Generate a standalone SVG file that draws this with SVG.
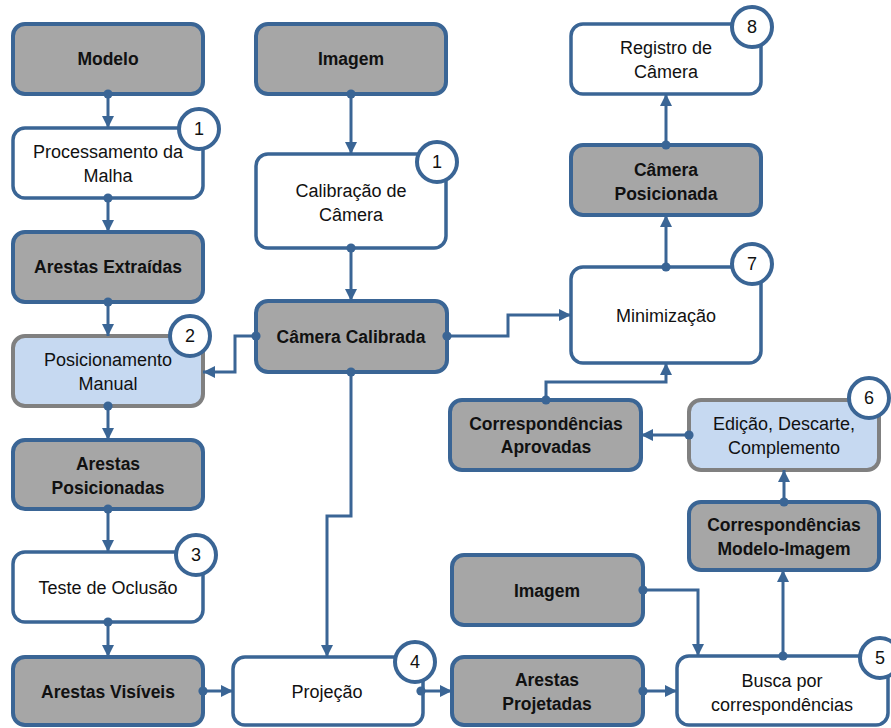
<svg xmlns="http://www.w3.org/2000/svg" width="891" height="728" viewBox="0 0 891 728">
<style>
.box{stroke:#3A6595;stroke-width:4;}
.g{fill:#A6A6A6;}
.w{fill:#FFFFFF;stroke-width:3.5;}
.lb{fill:#C6D9F1;stroke:#808080;}
.t{font-family:"Liberation Sans",Arial,sans-serif;font-size:18px;fill:#111;text-anchor:middle;}
.b{font-weight:bold;font-size:17.5px;}
.badge{fill:#fff;stroke:#3A6595;stroke-width:4;}
.bt{font-family:"Liberation Sans",Arial,sans-serif;font-size:18px;fill:#111;text-anchor:middle;}
.c{fill:none;stroke:#3A6595;stroke-width:3;marker-start:url(#dot);marker-end:url(#arr);}
</style>
<defs>
<marker id="arr" markerUnits="userSpaceOnUse" markerWidth="12" markerHeight="12" viewBox="0 0 10 10" refX="10" refY="5" orient="auto"><path d="M0,0 L10,5 L0,10 z" fill="#3A6595"/></marker>
<marker id="dot" markerUnits="userSpaceOnUse" markerWidth="10" markerHeight="10" viewBox="0 0 10 10" refX="5" refY="5" orient="auto"><circle cx="5" cy="5" r="4.6" fill="#3A6595"/></marker>
</defs>
<rect width="891" height="728" fill="#fff"/>

<g id="modelo"><rect class="box g" x="13" y="24" width="190" height="70" rx="12"/><text class="t b" x="108" y="65">Modelo</text></g>
<g id="processamento"><rect class="box w" x="13" y="128" width="190" height="70" rx="12"/><text class="t" x="108" y="158">Processamento da</text><text class="t" x="108" y="182">Malha</text><circle class="badge" cx="199" cy="129" r="20"/><text class="bt" x="199" y="135">1</text></g>
<g id="arestas-extraidas"><rect class="box g" x="13" y="232" width="190" height="70" rx="12"/><text class="t b" x="108" y="273">Arestas Extraídas</text></g>
<g id="posicionamento"><rect class="box lb" x="13" y="336" width="190" height="70" rx="12"/><text class="t" x="108" y="366">Posicionamento</text><text class="t" x="108" y="390">Manual</text><circle class="badge" cx="190" cy="336" r="20"/><text class="bt" x="190" y="342">2</text></g>
<g id="arestas-posicionadas"><rect class="box g" x="13" y="440" width="190" height="69" rx="12"/><text class="t b" x="108" y="470">Arestas</text><text class="t b" x="108" y="494">Posicionadas</text></g>
<g id="teste"><rect class="box w" x="13" y="552" width="190" height="70" rx="12"/><text class="t" x="108" y="594">Teste de Oclusão</text><circle class="badge" cx="196" cy="555" r="20"/><text class="bt" x="196" y="561">3</text></g>
<g id="arestas-visiveis"><rect class="box g" x="13" y="657" width="190" height="68" rx="12"/><text class="t b" x="108" y="698">Arestas Visíveis</text></g>

<g id="imagem1"><rect class="box g" x="256" y="24" width="190" height="70" rx="12"/><text class="t b" x="351" y="65">Imagem</text></g>
<g id="calibracao"><rect class="box w" x="256" y="154" width="190" height="94" rx="12"/><text class="t" x="351" y="197">Calibração de</text><text class="t" x="351" y="221">Câmera</text><circle class="badge" cx="437" cy="162" r="20"/><text class="bt" x="437" y="168">1</text></g>
<g id="camera-calibrada"><rect class="box g" x="256" y="301" width="191" height="71" rx="12"/><text class="t b" x="351" y="343">Câmera Calibrada</text></g>
<g id="projecao"><rect class="box w" x="233" y="657" width="190" height="68" rx="12"/><text class="t" x="327" y="698">Projeção</text><circle class="badge" cx="415" cy="662" r="20"/><text class="bt" x="415" y="668">4</text></g>

<g id="registro"><rect class="box w" x="571" y="24" width="190" height="70" rx="12"/><text class="t" x="666" y="54">Registro de</text><text class="t" x="666" y="78">Câmera</text><circle class="badge" cx="752" cy="27" r="20"/><text class="bt" x="752" y="33">8</text></g>
<g id="camera-posicionada"><rect class="box g" x="571" y="145" width="190" height="70" rx="12"/><text class="t b" x="666" y="176">Câmera</text><text class="t b" x="666" y="200">Posicionada</text></g>
<g id="minimizacao"><rect class="box w" x="571" y="267" width="190" height="96" rx="12"/><text class="t" x="666" y="322">Minimização</text><circle class="badge" cx="752" cy="264" r="20"/><text class="bt" x="752" y="270">7</text></g>
<g id="corr-aprovadas"><rect class="box g" x="450" y="400" width="191" height="70" rx="12"/><text class="t b" x="546" y="430">Correspondências</text><text class="t b" x="546" y="453">Aprovadas</text></g>
<g id="edicao"><rect class="box lb" x="689" y="400" width="190" height="70" rx="12"/><text class="t" x="784" y="430">Edição, Descarte,</text><text class="t" x="784" y="454">Complemento</text><circle class="badge" cx="869" cy="398" r="20"/><text class="bt" x="869" y="404">6</text></g>
<g id="corr-mi"><rect class="box g" x="689" y="502" width="190" height="68" rx="12"/><text class="t b" x="784" y="531">Correspondências</text><text class="t b" x="784" y="555">Modelo-Imagem</text></g>
<g id="imagem2"><rect class="box g" x="452" y="555" width="191" height="70" rx="12"/><text class="t b" x="547" y="597">Imagem</text></g>
<g id="arestas-projetadas"><rect class="box g" x="452" y="657" width="191" height="68" rx="12"/><text class="t b" x="547" y="686">Arestas</text><text class="t b" x="547" y="710">Projetadas</text></g>
<g id="busca"><rect class="box w" x="677" y="656" width="211" height="69" rx="12"/><text class="t" x="782" y="687">Busca por</text><text class="t" x="782" y="711">correspondências</text><circle class="badge" cx="880" cy="658" r="20"/><text class="bt" x="880" y="664">5</text></g>

<g id="connectors">
<path class="c" d="M108,94 V128"/>
<path class="c" d="M108,198 V232"/>
<path class="c" d="M108,302 V336"/>
<path class="c" d="M108,406 V440"/>
<path class="c" d="M108,509 V552"/>
<path class="c" d="M108,622 V657"/>
<path class="c" d="M203,691 H233"/>
<path class="c" d="M421,691 H452"/>
<path class="c" d="M643,691 H677"/>
<path class="c" d="M643,590 H698 V656"/>
<path class="c" d="M783,656 V570"/>
<path class="c" d="M784,502 V470"/>
<path class="c" d="M689,435 H641"/>
<path class="c" d="M546,400 V382 H666 V363"/>
<path class="c" d="M447,336 H508 V315 H571"/>
<path class="c" d="M666,267 V215"/>
<path class="c" d="M666,145 V94"/>
<path class="c" d="M351,94 V154"/>
<path class="c" d="M351,248 V301"/>
<path class="c" d="M256,336 H235 V372 H203"/>
<path class="c" d="M351,372 V516 H327 V657"/>
</g>
</svg>
